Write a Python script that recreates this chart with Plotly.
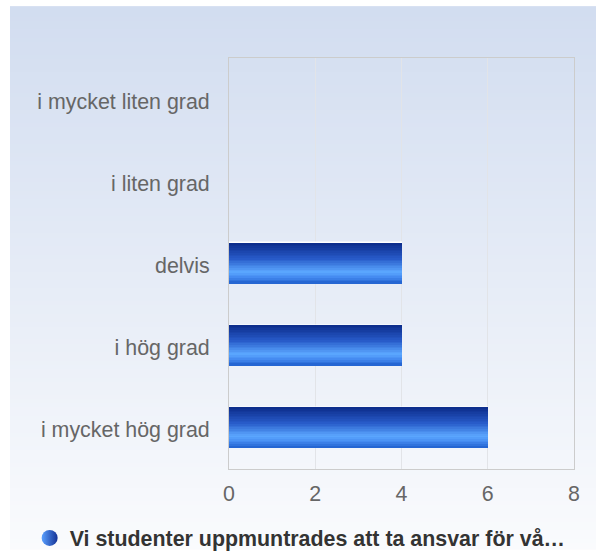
import base64, struct, zlib
import plotly.graph_objects as go

categories = ["i mycket liten grad", "i liten grad", "delvis", "i hög grad", "i mycket hög grad"]
values = [0, 0, 4, 4, 6]
series_name = "Vi studenter uppmuntrades att ta ansvar för vå…"
x_ticks = [0, 2, 4, 6, 8]

W, H = 596, 551
ML, MR, MT, MB = 229, 22, 58, 81
PW, PH = W - ML - MR, H - MT - MB
FS = 21.4


def lerp(c1, c2, t):
    return tuple(round(a + (b - a) * t) for a, b in zip(c1, c2))


def grad_at(stops, t):
    for (t0, c0), (t1, c1) in zip(stops, stops[1:]):
        if t <= t1:
            return lerp(c0, c1, (t - t0) / (t1 - t0) if t1 > t0 else 0)
    return stops[-1][1]


def png_gradient(top, bottom, n=128):
    raw = b""
    for i in range(n):
        r, g, b = lerp(top, bottom, i / (n - 1))
        raw += b"\x00" + bytes([r, g, b])
    def chunk(tag, data):
        c = struct.pack(">I", len(data)) + tag + data
        return c + struct.pack(">I", zlib.crc32(tag + data) & 0xffffffff)
    png = b"\x89PNG\r\n\x1a\n" + chunk(b"IHDR", struct.pack(">IIBBBBB", 1, n, 8, 2, 0, 0, 0))
    png += chunk(b"IDAT", zlib.compress(raw)) + chunk(b"IEND", b"")
    return "data:image/png;base64," + base64.b64encode(png).decode()


bar_stops = [(0.0, (12, 43, 138)), (0.4, (40, 92, 202)), (0.72, (92, 168, 255)),
             (0.86, (68, 138, 240)), (1.0, (32, 96, 206))]

fig = go.Figure()
BW = 0.485
N = 24
# base bar with white outline
fig.add_trace(go.Bar(x=values, y=categories, orientation="h", width=BW,
                     marker=dict(color="rgb(30,94,206)", line=dict(color="white", width=1.5)),
                     showlegend=False, hoverinfo="skip"))
for k in range(N):
    t = (k + 0.5) / N
    c = grad_at(bar_stops, t)
    fig.add_trace(go.Bar(x=values, y=categories, orientation="h",
                         width=BW / N + 0.002, offset=-BW / 2 + k * BW / N,
                         marker=dict(color="rgb(%d,%d,%d)" % c, line=dict(width=0)),
                         showlegend=False, hoverinfo="skip"))

fig.add_trace(go.Scatter(x=[None], y=[None], mode="markers", name=series_name,
                         marker=dict(symbol="circle", size=16, color="rgb(90,160,255)",
                                     gradient=dict(type="horizontal", color="rgb(20,50,150)"),
                                     line=dict(width=0)),
                         hoverinfo="skip"))

bg = png_gradient((210, 221, 240), (250, 251, 253))
fig.add_layout_image(dict(source=bg, xref="paper", yref="paper",
                          x=(10 - ML) / PW, y=(MT + PH - 6) / PH,
                          sizex=(W - 10) / PW, sizey=(H - 6) / PH,
                          xanchor="left", yanchor="top", sizing="stretch", layer="below"))

fig.update_layout(
    width=W, height=H, barmode="overlay", bargap=0,
    margin=dict(l=ML, r=MR, t=MT, b=MB),
    paper_bgcolor="white", plot_bgcolor="rgba(0,0,0,0)",
    font=dict(family="Liberation Sans, Arial, sans-serif", size=FS, color="#666666"),
    showlegend=True,
    legend=dict(orientation="h", xref="container", yref="container", x=0.5036, xanchor="center",
                y=1 - 538 / H, yanchor="middle",
                font=dict(size=FS, color="#333333", weight="bold"),
                bgcolor="rgba(0,0,0,0)", itemsizing="trace"),
    hovermode=False,
)
fig.update_xaxes(range=[0, 8], tickvals=x_ticks, showgrid=True, gridcolor="#e2e4e8", gridwidth=1,
                 zeroline=False, showline=True, linecolor="#cccccc", linewidth=1, mirror=True,
                 ticks="", ticklabelstandoff=5, tickfont=dict(size=FS, color="#666666"),
                 fixedrange=True)
fig.update_yaxes(autorange="reversed", showgrid=False, zeroline=False, showline=True,
                 linecolor="#cccccc", linewidth=1, mirror=True, ticks="", ticklabelstandoff=14,
                 ticklabelshift=-2,
                 tickfont=dict(size=FS, color="#666666"), fixedrange=True)

fig.write_html("out.html", config={"displayModeBar": False},
               post_script="document.body.style.margin='0';document.body.style.padding='0';")
